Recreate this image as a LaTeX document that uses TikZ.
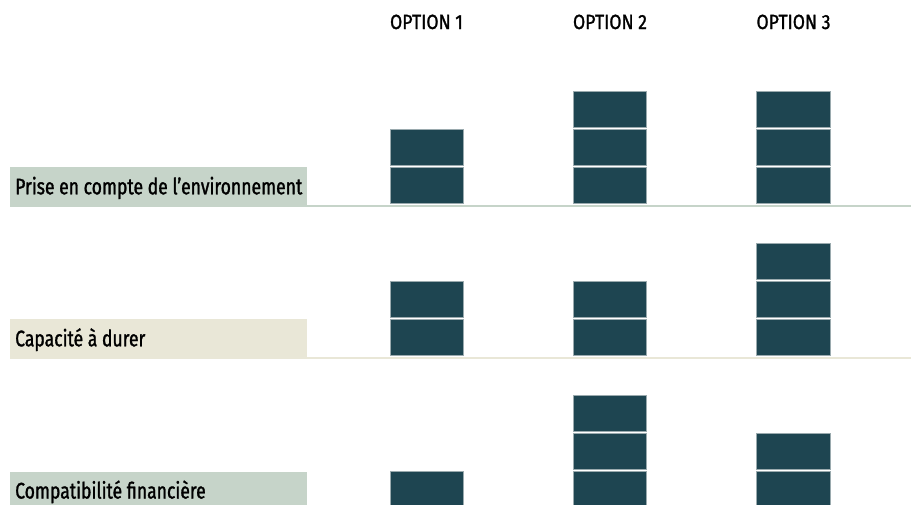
\documentclass[tikz,border=0pt]{standalone}
\usepackage{fontspec}
\setmainfont{Fira Sans}[FakeStretch=0.78, FakeBold=1.3]
\newfontfamily\headfont{Fira Sans}[FakeStretch=0.86, FakeBold=1.3]
\definecolor{blk}{HTML}{1E4551}
\definecolor{blkedge}{HTML}{9AAAAE}
\definecolor{lgreen}{HTML}{C6D4C9}
\definecolor{lbeige}{HTML}{E9E7D7}
\tikzset{
  blockbox/.style={fill=blk, draw=blkedge, line width=0.6pt},
  head/.style={font=\headfont\fontsize{20.5}{22}\selectfont, anchor=base, inner sep=0pt, text=black},
  lab/.style={font=\fontsize{22.5}{24}\selectfont, anchor=base west, inner sep=0pt, text=black},
}
\begin{document}
\begin{tikzpicture}[x=1pt,y=-1pt]
\useasboundingbox (0,0) rectangle (911,504);
% headers
\node[head] (h1) at (426.5,29) {OPTION 1};
\node[head] (h2) at (610,29) {OPTION 2};
\node[head] (h3) at (793.5,29) {OPTION 3};
% label boxes and lines
\fill[lgreen] (10,167.3) rectangle (307,206.7);
\fill[lgreen] (307,204.7) rectangle (911,206.7);
\fill[lbeige] (10,319.3) rectangle (307,358.7);
\fill[lbeige] (307,356.7) rectangle (911,358.7);
\fill[lgreen] (10,471.5) rectangle (307,510);
\node[lab] (l1) at (15,194.3) {Prise en compte de l’environnement};
\node[lab] (l2) at (15,346.3) {Capacité à durer};
\node[lab] (l3) at (15,498.5) {Compatibilité financière};
% blocks: row bottoms 203.5, 355.5, 507.5
\foreach \x/\B/\n in {390/203.5/2, 573.3/203.5/3, 756.7/203.5/3,
                      390/355.5/2, 573.3/355.5/2, 756.7/355.5/3,
                      390/507.5/1, 573.3/507.5/3, 756.7/507.5/2}{
  \foreach \j in {1,...,\n}{
    \draw[blockbox] (\x,{\B-38.2*(\j-1)}) rectangle ({\x+73.3},{\B-38.2*(\j-1)-36});
  }
}
\end{tikzpicture}
\end{document}
